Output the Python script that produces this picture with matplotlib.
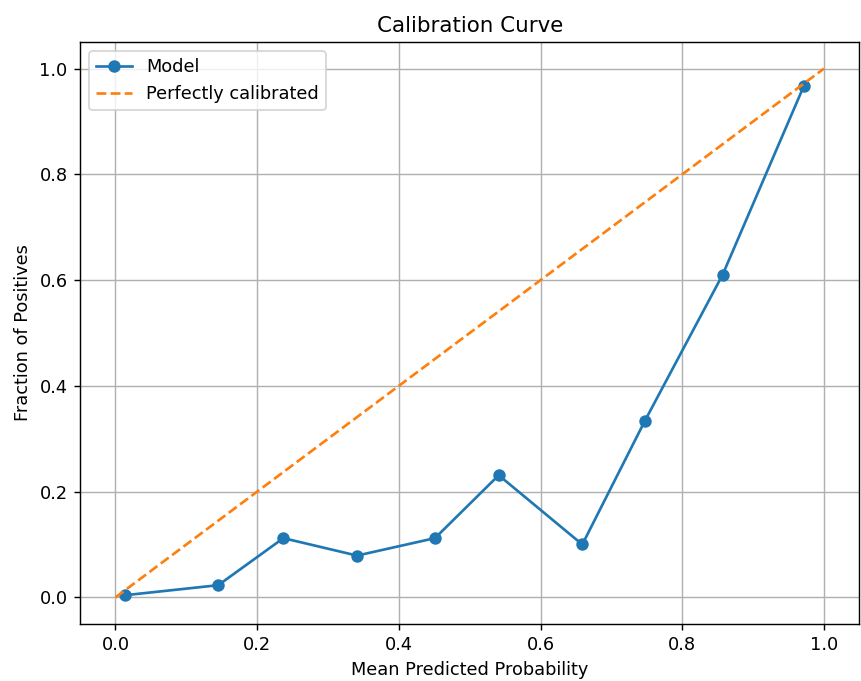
import matplotlib
matplotlib.use('Agg')
import matplotlib.pyplot as plt
import numpy as np

# calibration curve bins
mean_pred = [0.013, 0.145, 0.237, 0.341, 0.451, 0.541, 0.659, 0.747, 0.857, 0.972]
frac_pos = [0.004, 0.023, 0.112, 0.079, 0.112, 0.231, 0.100, 0.333, 0.610, 0.968]
diag = [0, 1]

DPI = 128
fig, ax = plt.subplots(figsize=(861 / DPI, 681 / DPI), dpi=DPI)
fig.subplots_adjust(left=0.093, right=0.998, bottom=0.084, top=0.938)

ax.plot(mean_pred, frac_pos, marker='o', label='Model')
ax.plot(diag, diag, linestyle='--', label='Perfectly calibrated')

ax.set_xlabel('Mean Predicted Probability')
ax.set_ylabel('Fraction of Positives')
ax.set_title('Calibration Curve')
ax.legend(loc='upper left')
ax.grid(True)

plt.savefig('out.png', dpi=DPI)
plt.close()
